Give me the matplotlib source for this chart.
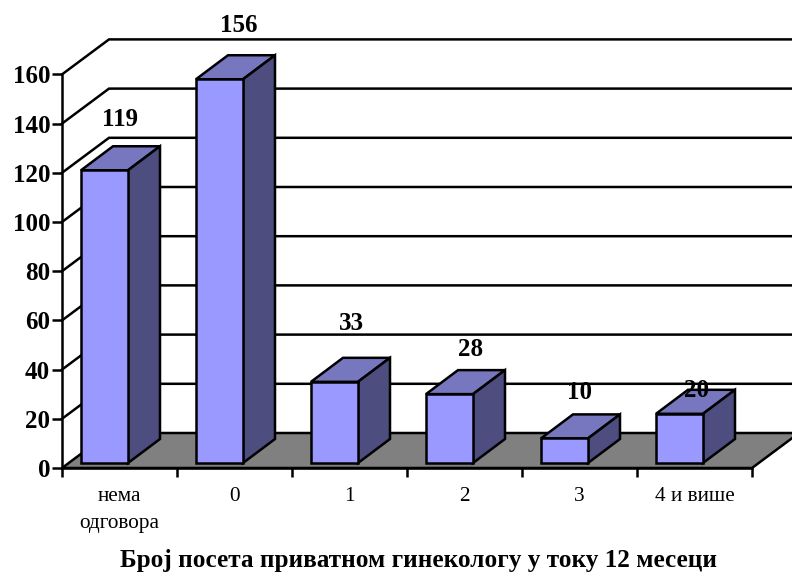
import matplotlib
matplotlib.use("Agg")
import matplotlib.pyplot as plt
import numpy as np

categories = ["нема\nодговора", "0", "1", "2", "3", "4 и више"]
values = [119, 156, 33, 28, 10, 20]
y_ticks = [0, 20, 40, 60, 80, 100, 120, 140, 160]
title = "Број посета приватном гинекологу у току 12 месеци"

# size of one unit in pixels
px_x = 115.0
px_y = 2.46

# depth of the fake 3d, in pixels
wall_dx, wall_dy = 47 / px_x, 35 / px_y
bar_dx, bar_dy = 32 / px_x, 24 / px_y
bar_left, bar_w = 19 / px_x, 47 / px_x
bar_base = 5 / px_y

# excel put these labels by hand, pixel nudge from the top of the bar
label_nudge = [(-1, 27), (3, 30), (1, 34), (5, 21), (-1, 22), (1, -1)]

lw = 1.8

plt.rcParams["font.family"] = "Liberation Serif"

fig = plt.figure(figsize=(7.92, 5.76), dpi=100)
ax = fig.add_axes([62 / 792, (576 - 468) / 576, 690 / 792, 393.6 / 576])
ax.set_xlim(0, 6)
ax.set_ylim(0, 160)
ax.patch.set_visible(False)

line = dict(color="black", lw=lw, clip_on=False, solid_joinstyle="miter")

# back wall grid
for v in y_ticks[1:]:
    ax.plot([0, wall_dx, 7], [v, v + wall_dy, v + wall_dy], zorder=1, **line)

# floor
ax.fill([0, wall_dx, 6 + wall_dx, 6], [0, wall_dy, wall_dy, 0], facecolor="#808080",
        edgecolor="black", lw=lw, clip_on=False, zorder=2)

x = np.arange(len(values))
for i, v in enumerate(values):
    x0 = x[i] + bar_left
    x1 = x0 + bar_w
    y0 = bar_base
    y1 = bar_base + v
    ax.bar(x0, v, width=bar_w, bottom=y0, align="edge", color="#9999FF",
           edgecolor="black", lw=lw, zorder=4, clip_on=False)
    ax.fill([x0, x0 + bar_dx, x1 + bar_dx, x1], [y1, y1 + bar_dy, y1 + bar_dy, y1],
            facecolor="#7777BF", edgecolor="black", lw=lw, zorder=3, clip_on=False)
    ax.fill([x1, x1 + bar_dx, x1 + bar_dx, x1], [y0, y0 + bar_dy, y1 + bar_dy, y1],
            facecolor="#4D4D80", edgecolor="black", lw=lw, zorder=3, clip_on=False)
    ax.annotate(str(v), (x0 + (bar_w + bar_dx) / 2, y1 + bar_dy),
                xytext=label_nudge[i], textcoords="offset pixels",
                ha="center", va="center", fontsize=18, fontweight="bold",
                zorder=6, annotation_clip=False)

for s in ["top", "right"]:
    ax.spines[s].set_visible(False)
for s in ["left", "bottom"]:
    ax.spines[s].set_linewidth(lw)
    ax.spines[s].set_zorder(5)

ax.set_yticks(y_ticks)
ax.set_yticklabels([str(t) for t in y_ticks], fontsize=18, fontweight="bold")
ax.tick_params(axis="y", length=7, width=lw, pad=1.5)
ax.set_xticks(np.arange(len(values) + 1))
ax.set_xticklabels([])
ax.tick_params(axis="x", which="major", length=6.5, width=lw)
ax.set_xticks(x + 0.5, minor=True)
ax.set_xticklabels(categories, minor=True, fontsize=15.3, linespacing=1.55)
ax.tick_params(axis="x", which="minor", length=0, pad=14)

fig.text(418 / 792, 1 - 561 / 576, title, ha="center", va="center",
         fontsize=18.2, fontweight="bold")

plt.savefig("out.png", dpi=100)
